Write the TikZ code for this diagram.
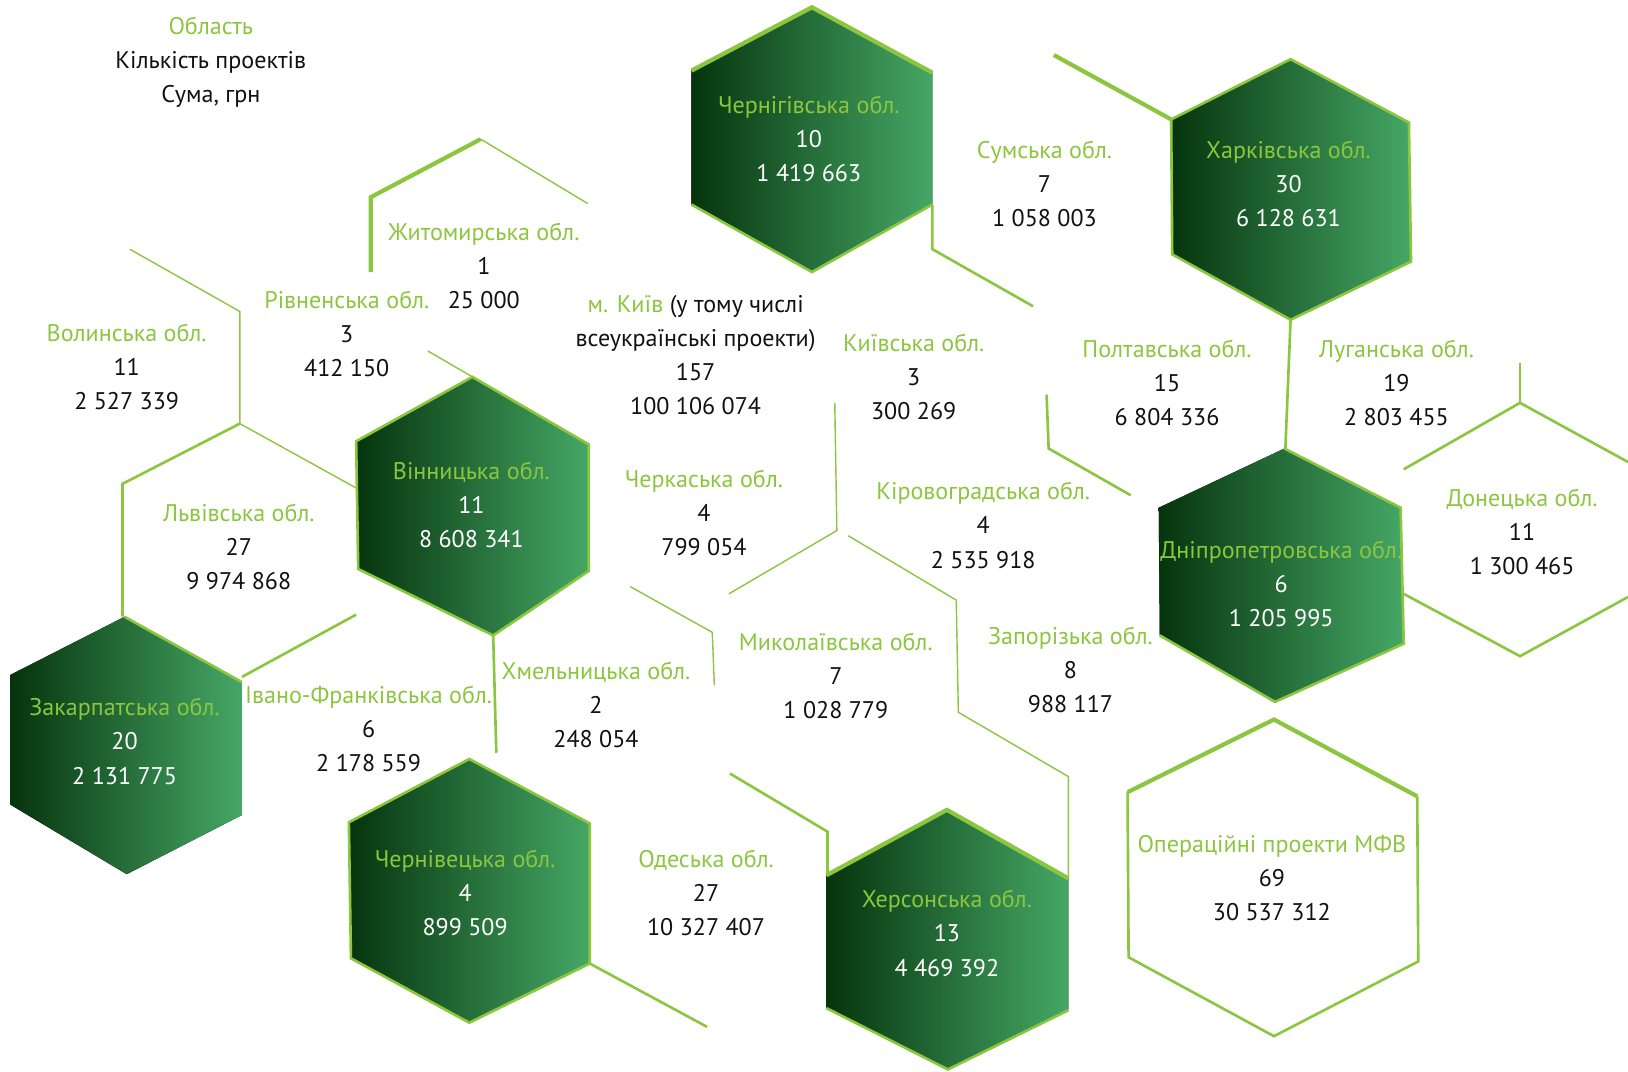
\documentclass[tikz,border=0pt]{standalone}
\usepackage{fontspec}
\setmainfont{PT Sans}
\usepackage{xcolor}
\usepackage{tikz}
\definecolor{leaf}{HTML}{8CC63F}
\definecolor{ink}{HTML}{111111}
\definecolor{hexdark}{HTML}{06340D}
\definecolor{hexmid}{HTML}{1F7134}
\definecolor{hexlight}{HTML}{45A766}
\tikzset{
  hexfill/.style={left color=hexdark, middle color=hexmid, right color=hexlight},
  rim/.style={draw=leaf, line width=1.5pt, line join=miter},
  rimthick/.style={draw=leaf, line width=2.4pt, line join=miter},
  rimthin/.style={draw=leaf, line width=0.8pt, line join=miter},
  lbl/.style={align=center, inner sep=0pt, text=ink, font=\fontsize{13.7}{19.4}\selectfont},
  lblin/.style={lbl, text=white}
}
\newcommand{\obl}[1]{\textcolor{leaf}{#1}}

\begin{document}
\begin{tikzpicture}[x=0.020765cm, y=-0.020765cm]
  \useasboundingbox (0,0) rectangle (1568,1032);

  % filled hexagons
  \fill[hexfill] (782,7)--(898,70)--(898,197)--(782,262)--(666,197)--(666,68)--cycle;
  \fill[hexfill] (1243,57)--(1357,118)--(1359,252)--(1243,308)--(1129,245)--(1128,115)--cycle;
  \fill[hexfill] (455,363)--(567,428)--(567,550)--(475,612)--(345,548)--(343,425)--cycle;
  \fill[hexfill] (120,594)--(233,657)--(233,785)--(122,842)--(10,775)--(10,650)--cycle;
  \fill[hexfill] (1237,432)--(1349,489)--(1352,620)--(1228,676)--(1117,612)--(1116,489)--cycle;
  \fill[hexfill] (452,731)--(568,793)--(568,928)--(452,985)--(338,923)--(336,792)--cycle;
  \fill[hexfill] (912,780)--(1029,846)--(1029,973)--(913,1030)--(796,971)--(796,843)--cycle;

  % rims of filled hexagons
  \draw[rimthick] (666,68)--(782,7)--(898,70);
  \draw[rim] (898,197)--(782,262)--(666,197);
  \draw[rim] (1243,57)--(1357,118)--(1359,252)--(1243,308)--(1129,245)--(1128,115)--cycle;
  \draw[rim] (343,425)--(455,363)--(567,428)--(567,550)--(475,612)--(345,548)--cycle;
  \draw[rim] (120,594)--(233,657);
  \draw[rim] (1237,432)--(1349,489)--(1352,620)--(1228,676)--(1117,612);
  \draw[rim] (452,731)--(568,793)--(568,928)--(452,985)--(338,923)--(336,792)--cycle;
  \draw[rimthick] (796,843)--(912,780)--(1029,846);
  \draw[rim] (1029,973)--(913,1030)--(796,971);

  % open hexagon (MFV)
  \draw[rimthick] (1086,763)--(1227,693)--(1365,767);
  \draw[rim] (1365,767)--(1366,926)--(1227,998)--(1087,922)--(1086,763);

  % honeycomb lines
  \draw[rimthick] (357,262)--(357,190)--(463,134);
  \draw[rimthin] (463,134)--(566,196);
  \draw[rimthin] (125,240)--(231,300)--(231,408);
  \draw[rim] (118,594)--(118,466)--(231,408);
  \draw[rimthin] (231,408)--(343,470);
  \draw[rim] (233,652)--(343,592);
  \draw[rimthin] (412,338)--(455,363);
  \draw[rim] (475,612)--(478,725);
  \draw[rimthin] (607,565)--(686,609)--(688,660);
  \draw[rimthin] (804,388)--(806,511)--(702,572);
  \draw[rim] (898,197)--(898,240)--(995,295);
  \draw[rimthick] (1015,53)--(1128,115);
  \draw[rim] (1008,380)--(1010,432)--(1089,477);
  \draw[rim] (1243,308)--(1238,432);
  \draw[rim] (1464,350)--(1464,388);
  \draw[rim] (1352,452)--(1464,388)--(1568,445);
  \draw[rim] (1352,572)--(1464,632)--(1568,575);
  \draw[rimthin] (817,516)--(921,578)--(923,686)--(1029,748)--(1029,846);
  \draw[rim] (703,745)--(797,801)--(797,843);
  \draw[rim] (568,928)--(681,989);

  % labels
  \node[lbl] (legend) at (203,60) {\obl{Область}\\Кількість проектів\\Сума, грн};
  \node[lbl] (zhytomyr) at (466,256) {\obl{Житомирська обл.}\\1\\25 000};
  \node[lbl] (rivne) at (334,322) {\obl{Рівненська обл.}\\3\\412 150};
  \node[lbl] (volyn) at (122,353) {\obl{Волинська обл.}\\11\\2 527 339};
  \node[lbl] (kyivcity) at (670,342) {\obl{м. Київ} (у тому числі\\всеукраїнські проекти)\\157\\100 106 074};
  \node[lbl] (kyivobl) at (880,363) {\obl{Київська обл.}\\3\\300 269};
  \node[lblin] (chernihiv) at (779,134) {\obl{Чернігівська обл.}\\10\\1 419 663};
  \node[lbl] (sumy) at (1006,177) {\obl{Сумська обл.}\\7\\1 058 003};
  \node[lblin] (kharkiv) at (1241,177) {\obl{Харківська обл.}\\30\\6 128 631};
  \node[lbl] (poltava) at (1124,369) {\obl{Полтавська обл.}\\15\\6 804 336};
  \node[lbl] (luhansk) at (1345,369) {\obl{Луганська обл.}\\19\\2 803 455};
  \node[lblin] (vinnytsia) at (454,486) {\obl{Вінницька обл.}\\11\\8 608 341};
  \node[lbl] (lviv) at (230,527) {\obl{Львівська обл.}\\27\\9 974 868};
  \node[lbl] (cherkasy) at (678,494) {\obl{Черкаська обл.}\\4\\799 054};
  \node[lbl] (kirovohrad) at (947,506) {\obl{Кіровоградська обл.}\\4\\2 535 918};
  \node[lbl] (donetsk) at (1466,512) {\obl{Донецька обл.}\\11\\1 300 465};
  \node[lblin] (dnipro) at (1234,562) {\obl{Дніпропетровська обл.}\\6\\1 205 995};
  \node[lblin] (zakarpattia) at (120,714) {\obl{Закарпатська обл.}\\20\\2 131 775};
  \node[lbl] (ivanofr) at (355,702) {\obl{Івано-Франківська обл.}\\6\\2 178 559};
  \node[lbl] (khmelnytskyi) at (574,679) {\obl{Хмельницька обл.}\\2\\248 054};
  \node[lbl] (mykolaiv) at (805,651) {\obl{Миколаївська обл.}\\7\\1 028 779};
  \node[lbl] (zaporizhzhia) at (1031,645) {\obl{Запорізька обл.}\\8\\988 117};
  \node[lblin] (chernivtsi) at (448,860) {\obl{Чернівецька обл.}\\4\\899 509};
  \node[lbl] (odesa) at (680,860) {\obl{Одеська обл.}\\27\\10 327 407};
  \node[lblin] (kherson) at (912,899) {\obl{Херсонська обл.}\\13\\4 469 392};
  \node[lbl] (mfv) at (1225,846) {\obl{Операційні проекти МФВ}\\69\\30 537 312};
\end{tikzpicture}
\end{document}
